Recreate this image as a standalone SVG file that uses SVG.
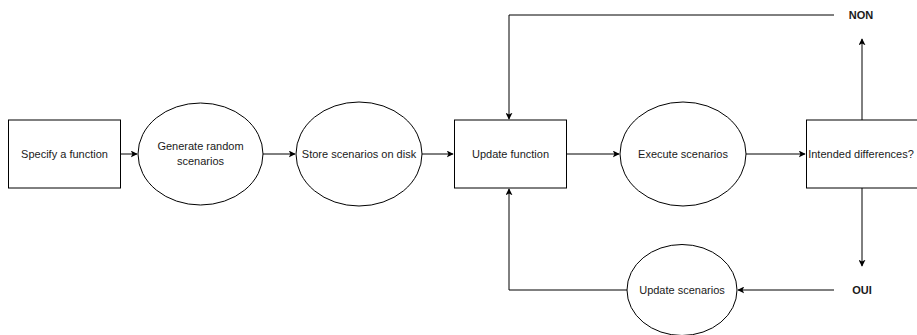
<svg xmlns="http://www.w3.org/2000/svg" width="917" height="335" viewBox="0 0 917 335">
<defs>
<marker id="arr" viewBox="0 0 10 10" refX="9" refY="5" markerWidth="7" markerHeight="7" markerUnits="userSpaceOnUse" orient="auto">
<path d="M0,0 L10,5 L0,10 L2.5,5 Z" fill="#000"/>
</marker>
<style>
.shape{fill:#fff;stroke:#000;stroke-width:1}
.lbl{font-family:"Liberation Sans",Arial,sans-serif;font-size:11px;fill:#1a1a1a;text-anchor:middle;dominant-baseline:central}
.bold{font-weight:bold;font-size:11px}
.con{fill:none;stroke:#000;stroke-width:1}
</style>
</defs>
<rect width="917" height="335" fill="#fff"/>
<g id="connectors">
<path class="con" d="M120,154 H137" marker-end="url(#arr)"/>
<path class="con" d="M263,154 H295" marker-end="url(#arr)"/>
<path class="con" d="M422,154 H453" marker-end="url(#arr)"/>
<path class="con" d="M566,154 H619" marker-end="url(#arr)"/>
<path class="con" d="M746,154 H805" marker-end="url(#arr)"/>
<path class="con" d="M862,120 V39" marker-end="url(#arr)"/>
<path class="con" d="M862,188 V266" marker-end="url(#arr)"/>
<path class="con" d="M834,15 H509 V119" marker-end="url(#arr)"/>
<path class="con" d="M834,290 H738" marker-end="url(#arr)"/>
<path class="con" d="M627,290 H509 V189" marker-end="url(#arr)"/>
</g>
<g id="specify">
<rect class="shape" x="8.5" y="120" width="112" height="68"/>
<text class="lbl" x="64.5" y="154">Specify a function</text>
</g>
<g id="generate">
<ellipse class="shape" cx="200.5" cy="154" rx="62.5" ry="51"/>
<text class="lbl" x="200.5" y="146">Generate random</text>
<text class="lbl" x="200.5" y="161">scenarios</text>
</g>
<g id="store">
<ellipse class="shape" cx="359" cy="154" rx="63" ry="52"/>
<text class="lbl" x="359" y="154">Store scenarios on disk</text>
</g>
<g id="update-function">
<rect class="shape" x="454.5" y="120" width="112" height="68"/>
<text class="lbl" x="510.5" y="154">Update function</text>
</g>
<g id="execute">
<ellipse class="shape" cx="683" cy="154" rx="63" ry="52"/>
<text class="lbl" x="683" y="154">Execute scenarios</text>
</g>
<g id="intended">
<rect class="shape" x="806.5" y="120" width="112" height="68"/>
<text class="lbl" x="861" y="154">Intended differences?</text>
</g>
<g id="non">
<text class="lbl bold" x="861" y="15">NON</text>
</g>
<g id="oui">
<text class="lbl bold" x="862" y="290">OUI</text>
</g>
<g id="update-scenarios">
<ellipse class="shape" cx="682" cy="290" rx="55" ry="45.5"/>
<text class="lbl" x="682" y="290">Update scenarios</text>
</g>
</svg>
